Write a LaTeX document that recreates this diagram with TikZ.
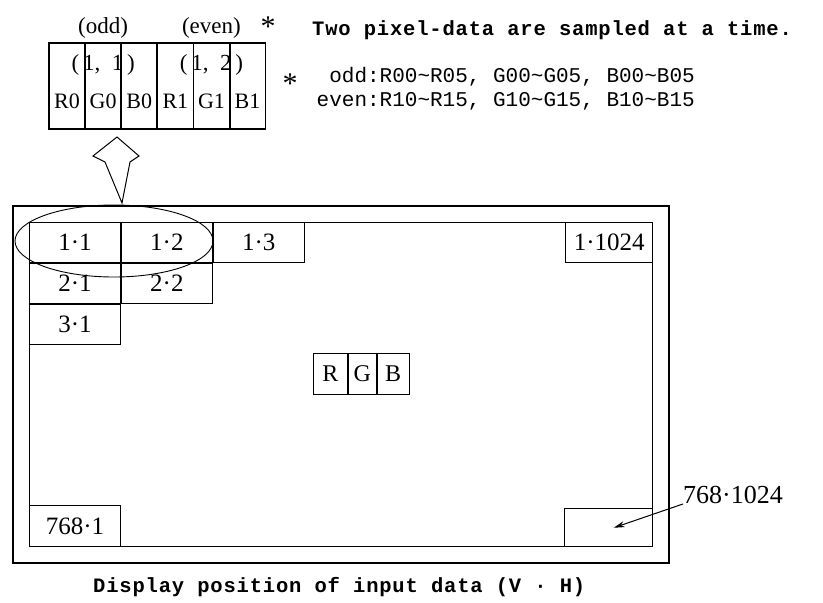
\documentclass[tikz,border=0pt]{standalone}
\usepackage{fontspec}
\setmainfont{Liberation Serif}
\newfontfamily\monofont[LetterSpace=4]{Liberation Mono}
\newfontfamily\notefont{Liberation Mono}
\usetikzlibrary{arrows.meta,positioning,shapes.geometric}

\begin{document}
\begin{tikzpicture}[x=1pt,y=-1pt,
  cell/.style={draw,line width=0.9pt,minimum width=91pt,minimum height=40pt,inner sep=0pt,font=\fontsize{25}{25}\selectfont},
  sub/.style={draw,line width=0.9pt,minimum width=35.2pt,minimum height=85pt,inner sep=0pt},
  lbl/.style={inner sep=0pt,font=\fontsize{23}{23}\selectfont},
  mono/.style={inner sep=0pt,font=\monofont\bfseries\fontsize{20.5}{20.5}\selectfont},
  note/.style={inner sep=0pt,font=\notefont\fontsize{21}{21}\selectfont},
  ar/.style={-{Stealth[length=11pt,width=6pt]},line width=1pt}]
\useasboundingbox (0,0) rectangle (823,603);
% display frame
\draw[line width=1.4pt] (13,206) rectangle (669,563);
\node[draw,line width=1.2pt,minimum width=623pt,minimum height=324pt,inner sep=0pt,anchor=north west] (screen) at (29,222) {};
% pixel cells
\node[cell,anchor=north west] (c11) at (screen.north west) {1·1};
\node[cell,right=0pt of c11] (c12) {1·2};
\node[cell,right=0pt of c12] (c13) {1·3};
\node[cell,below=0pt of c11] (c21) {2·1};
\node[cell,right=0pt of c21] (c22) {2·2};
\node[cell,below=0pt of c21] (c31) {3·1};
\node[cell,minimum width=87pt,anchor=north east] (c1n) at (screen.north east) {1·1024};
\node[cell,minimum width=91pt,minimum height=41pt,anchor=south west] (cm1) at (screen.south west) {768·1};
\node[cell,minimum width=88pt,minimum height=38pt,anchor=south east] (cmn) at (screen.south east) {};
% one pixel
\node[cell,minimum width=34pt,minimum height=41pt,anchor=north west,font=\fontsize{24}{24}\selectfont] (r) at (313,353) {R};
\node[cell,minimum width=28pt,minimum height=41pt,right=0pt of r,font=\fontsize{24}{24}\selectfont] (g) {G};
\node[cell,minimum width=32pt,minimum height=41pt,right=0pt of g,font=\fontsize{24}{24}\selectfont] (b) {B};
% sampled pair
\node[draw,ellipse,line width=0.9pt,minimum width=198pt,minimum height=72pt] (pair) at (114,241) {};
\draw[line width=1pt] (117,137) -- (139,156) -- (130,162) -- (122,203) -- (105,162) -- (93,156) -- cycle;
% data word
\node[sub,anchor=north west] (s1) at (49,43) {};
\foreach \a/\b in {s1/s2,s2/s3,s3/s4,s4/s5,s5/s6} \node[sub,right=0pt of \a] (\b) {};
\draw[line width=1.4pt] (s1.north west) rectangle (s6.south east);
\draw[line width=1.4pt] (s3.north east) -- (s3.south east);
\foreach \s/\t in {s1/R0,s2/G0,s3/B0,s4/R1,s5/G1,s6/B1} \node[lbl,font=\fontsize{22}{22}\selectfont] at ([yshift=28pt]\s.south) {\t};
\node[lbl] (p11) at ([yshift=-22pt]s2.north) {(\,1,\enspace1\,)};
\node[lbl] (p12) at ([yshift=-22pt]s5.north) {(\,1,\enspace2\,)};
\node[lbl] (odd) at ([yshift=15pt]s2.north) {(odd)};
\node[lbl] (even) at ([yshift=15pt]s5.north) {(even)};
\node[lbl,font=\fontsize{30}{30}\selectfont] (star) at (268,27) {*};
% notes
\node[mono,anchor=west] (title) at (312,30) {Two pixel-data are sampled at a time.};
\node[lbl,font=\fontsize{30}{30}\selectfont] (nstar) at (290,84) {*};
\node[note,anchor=east] (nodd) at (695,77) {odd:R00\textasciitilde R05, G00\textasciitilde G05, B00\textasciitilde B05};
\node[note,anchor=east] (neven) at (695,101) {even:R10\textasciitilde R15, G10\textasciitilde G15, B10\textasciitilde B15};
\node[mono,anchor=west] (caption) at (93,587) {Display position of input data (V · H)};
% last pixel
\node[anchor=west,inner sep=0pt,font=\fontsize{26}{26}\selectfont] (lmn) at (683,495) {768·1024};
\draw[ar] (lmn.south west) -- ([xshift=5pt]cmn.center);
\end{tikzpicture}
\end{document}
